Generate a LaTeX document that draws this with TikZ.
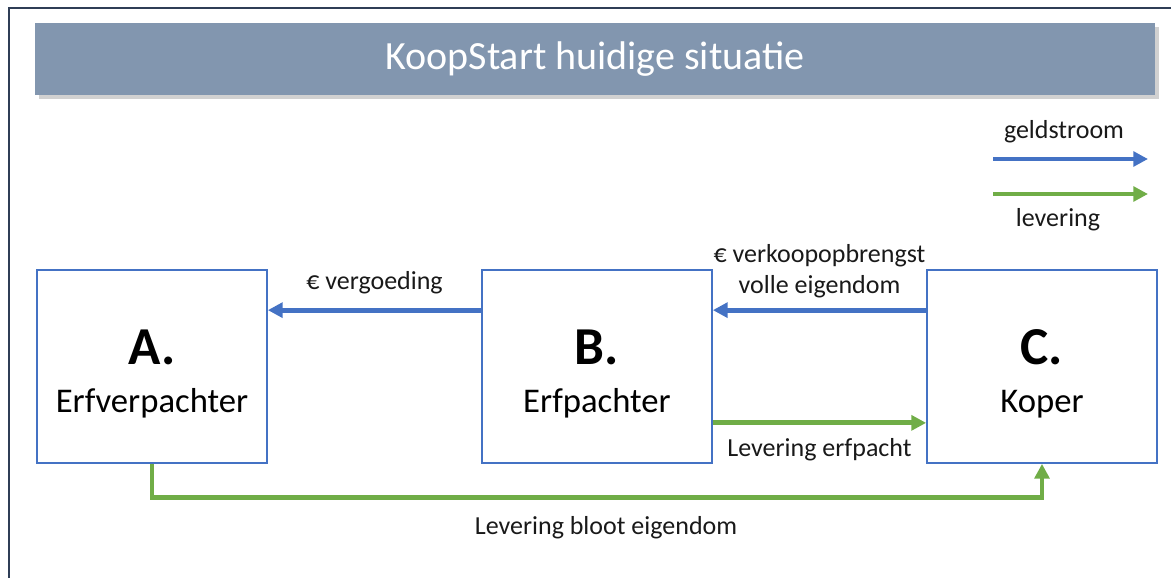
\documentclass[tikz,border=0pt]{standalone}
\usepackage{fontspec}
\setmainfont{Carlito}
\usetikzlibrary{arrows.meta,positioning,calc}
\definecolor{kblue}{HTML}{4472C4}
\definecolor{kgreen}{HTML}{70AD47}
\definecolor{ktitle}{HTML}{8296AF}
\definecolor{kframe}{HTML}{2F3E56}

\begin{document}
\begin{tikzpicture}[x=0.75pt,y=-0.75pt,
      party/.style={draw=kblue, line width=1.3pt, fill=white, align=center,
                    minimum width=172.5pt, minimum height=144.75pt, inner sep=0pt,
                    font=\fontsize{26}{36}\selectfont},
      geld/.style={-{Triangle[length=11pt,width=11pt]}, kblue, line width=3.6pt},
      lever/.style={-{Triangle[length=11pt,width=11pt]}, kgreen, line width=3.6pt},
      lbl/.style={font=\fontsize{19.5}{23}\selectfont, text=black!90, align=center, inner sep=1pt}]
    \useasboundingbox (0,0) rectangle (1171,578);
    % frame and title
    \draw[kframe, line width=1.5pt] (9,578) -- (9,8) -- (1171,8);
    \fill[black!18] (39,27) rectangle (1159,99);
    \node[fill=ktitle, minimum width=840pt, minimum height=54pt, inner sep=0pt,
          text=white, font=\fontsize{30}{34}\selectfont] (title) at (595,59) {KoopStart huidige situatie};
    % parties
    \node[party] (erfverpachter) at (152,366.5) {{\fontsize{40}{36}\selectfont\bfseries\rule{0pt}{37pt}A.}\\Erfverpachter};
    \node[party] (erfpachter) at (597,366.5) {{\fontsize{40}{36}\selectfont\bfseries\rule{0pt}{37pt}B.}\\Erfpachter};
    \node[party] (koper) at (1042,366.5) {{\fontsize{40}{36}\selectfont\bfseries\rule{0pt}{37pt}C.}\\Koper};
    % flows
    \draw[geld] ([yshift=-30.75pt]erfpachter.north west) -- ([yshift=-30.75pt]erfverpachter.north east)
        node[lbl, midway, above=9pt] (vergoeding) {€ vergoeding};
    \draw[geld] ([yshift=-30.75pt]koper.north west) -- ([yshift=-30.75pt]erfpachter.north east)
        node[lbl, midway, above=10pt, text depth=0pt] (opbrengst) {€ verkoopopbrengst\\volle eigendom};
    \draw[lever] ([yshift=30.75pt]erfpachter.south east) -- ([yshift=30.75pt]koper.south west)
        node[lbl, midway, below=9pt] (erfpacht) {Levering erfpacht};
    \draw[lever] (erfverpachter.south) -- ++(0,34) coordinate (hoek) -| (koper.south);
    \node[lbl] (bloot) at (606,528) {Levering bloot eigendom};
    % legend
    \coordinate (gs1) at (993,159);
    \coordinate (gs2) at (1148,159);
    \coordinate (lv1) at (993,194);
    \coordinate (lv2) at (1148,194);
    \node[lbl] (geldstroom) at (1064,132) {geldstroom};
    \node[lbl] (levering) at (1058,220) {levering};
    \draw[geld] (gs1) -- (gs2);
    \draw[lever] (lv1) -- (lv2);
\end{tikzpicture}
\end{document}
